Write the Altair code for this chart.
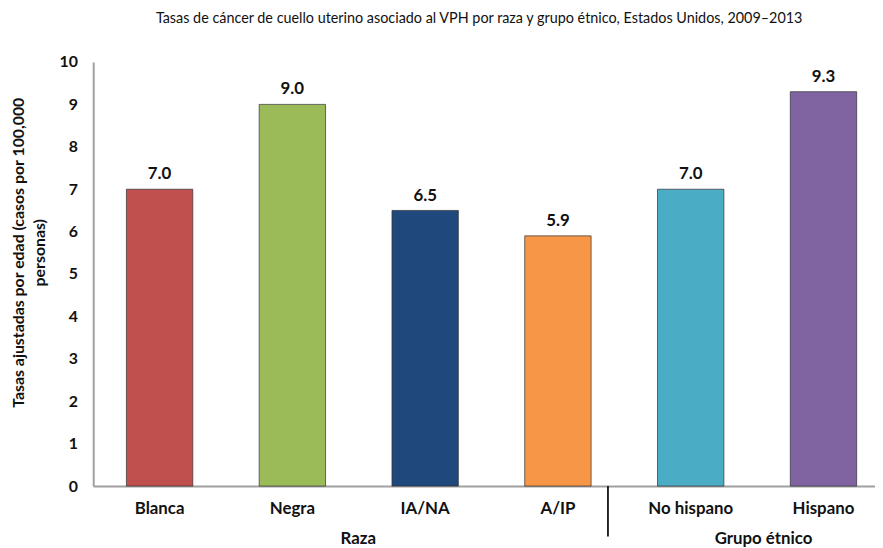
import altair as alt
import pandas as pd

categories = ["Blanca", "Negra", "IA/NA", "A/IP", "No hispano", "Hispano"]
values = [7.0, 9.0, 6.5, 5.9, 7.0, 9.3]
colors = ["#C0504D", "#9BBB59", "#1F497D", "#F79646", "#4BACC6", "#8064A2"]
group_labels = ["Raza", "Grupo étnico"]
group_anchor = ["Negra", "No hispano"]
group_shift = [33, 40]
separator_after = ["A/IP"]

W, H = 789, 428
FONT = "Lato"

df = pd.DataFrame({"cat": categories, "val": values, "color": colors})
x_scale = alt.Scale(domain=categories, paddingInner=0.5, paddingOuter=0.25, range=[0, 804])

base = alt.Chart(df)

bars = base.mark_bar(strokeWidth=1, stroke="#303030", strokeOpacity=0.7).encode(
    x=alt.X("cat:N", scale=x_scale, sort=categories,
            axis=alt.Axis(title=None, labelAngle=0, labelFont=FONT, labelFontSize=17,
                          labelFontWeight="bold", labelColor="#111", labelPadding=15,
                          ticks=False, domainColor="#a0a0a0", domainWidth=2)),
    y=alt.Y("val:Q", scale=alt.Scale(domain=[0, 10], nice=False),
            axis=alt.Axis(title=["Tasas ajustadas por edad (casos por 100,000", "personas)"],
                          values=list(range(0, 11)), grid=False, ticks=False,
                          labelFont=FONT, labelFontSize=16, labelFontWeight="bold",
                          labelColor="#111", labelPadding=16, domainColor="#a0a0a0",
                          domainWidth=2, titleFont=FONT, titleFontSize=16,
                          titleFontWeight="bold", titleColor="#111", titlePadding=12,
                          titleLineHeight=21, titleY=192)),
    color=alt.Color("color:N", scale=None),
)

labels = base.mark_text(dy=-15, font=FONT, fontSize=17, fontWeight="bold", color="#111").encode(
    x=alt.X("cat:N", scale=x_scale, sort=categories),
    y="val:Q",
    text=alt.Text("val:Q", format=".1f"),
)

group_layers = []
for lab, anc, sh in zip(group_labels, group_anchor, group_shift):
    gdf = pd.DataFrame({"cat": [anc], "label": [lab]})
    group_layers.append(
        alt.Chart(gdf).mark_text(font=FONT, fontSize=17, fontWeight="bold", color="#111",
                                 baseline="middle", dx=sh).encode(
            x=alt.X("cat:N", scale=x_scale, sort=categories, bandPosition=1),
            y=alt.value(H + 53),
            text="label:N",
        )
    )

sdf = pd.DataFrame({"cat": separator_after})
sep = alt.Chart(sdf).mark_rule(color="#111", strokeWidth=1.8, xOffset=17).encode(
    x=alt.X("cat:N", scale=x_scale, sort=categories, bandPosition=1),
    y=alt.value(H),
    y2=alt.value(H + 51),
)

chart = alt.layer(bars, labels, *group_layers, sep).properties(
    width=W, height=H,
    title=alt.TitleParams(
        "Tasas de cáncer de cuello uterino asociado al VPH por raza y grupo étnico, Estados Unidos, 2009–2013",
        font=FONT, fontSize=14.5, fontWeight="normal", color="#111", anchor="middle",
        dx=-5, offset=28),
    autosize=alt.AutoSizeParams(type="none"),
    padding={"left": 86, "top": 52, "right": 0, "bottom": 60},
).configure_view(stroke=None)

chart.save("out.html", embed_options={"renderer": "svg", "actions": False})
